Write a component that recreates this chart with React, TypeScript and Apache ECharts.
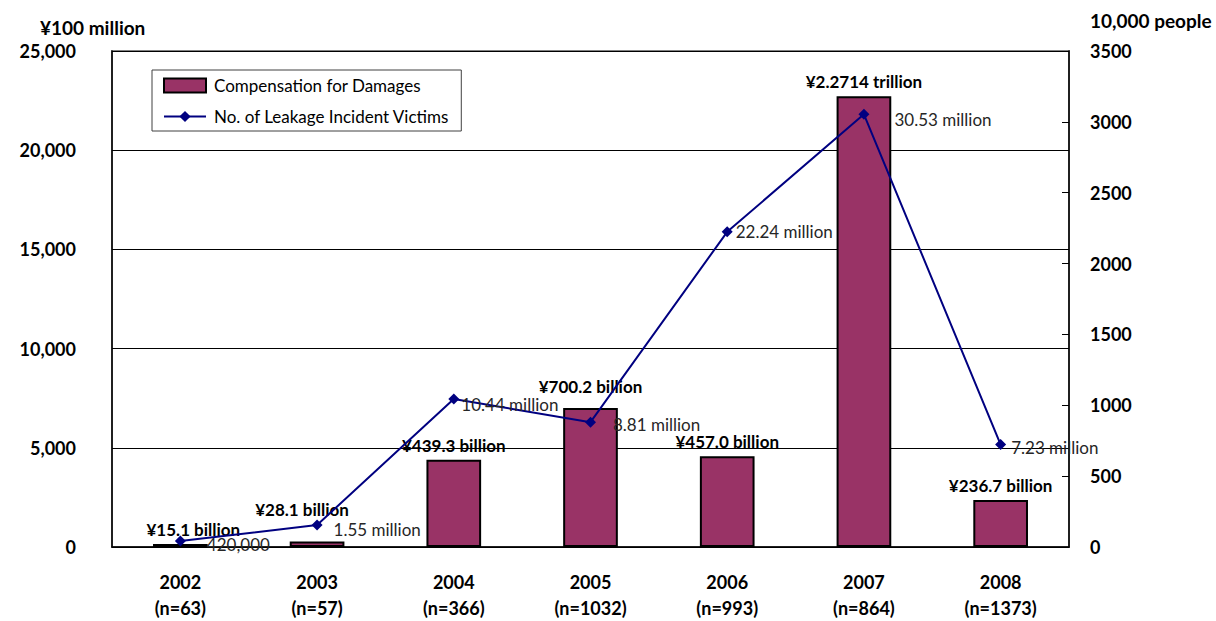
import React, { useEffect, useRef } from "react";
import * as echarts from "echarts";

const years = ["2002", "2003", "2004", "2005", "2006", "2007", "2008"];
const sampleSizes = ["n=63", "n=57", "n=366", "n=1032", "n=993", "n=864", "n=1373"];
const compensation = [151, 281, 4393, 7002, 4570, 22714, 2367];
const compensationLabels = ["¥15.1 billion", "¥28.1 billion", "¥439.3 billion", "¥700.2 billion", "¥457.0 billion", "¥2.2714 trillion", "¥236.7 billion"];
const victims = [42, 155, 1044, 881, 2224, 3053, 723];
const victimLabels = ["420,000", "1.55 million", "10.44 million", "8.81 million", "22.24 million", "30.53 million", "7.23 million"];

// label placement tweaks (style only)
const victimLabelOffsets = [[16, 3], [6, 4], [-3, 5], [12, 2], [-2, 0], [20, 5], [0, 3]];
const barLabelOffsets = [[13, 0], [-15, -17], [0, 0], [0, -7], [0, 0], [0, 0], [0, 0]];

const FONT = "Lato";

export default function App() {
  const ref = useRef<HTMLDivElement>(null);
  useEffect(() => {
    if (!ref.current) return;
    const chart = echarts.init(ref.current, null, { renderer: "svg" });
    chart.setOption({
      animation: false,
      backgroundColor: "#ffffff",
      textStyle: { fontFamily: FONT },
      grid: {
        left: 112,
        right: 147,
        top: 51,
        bottom: 70,
        show: true,
        borderColor: "#808080",
        borderWidth: 2,
        backgroundColor: "transparent",
      },
      legend: {
        orient: "vertical",
        left: 152,
        top: 70,
        padding: [7, 12, 6, 11],
        itemGap: 14,
        itemWidth: 42,
        itemHeight: 14,
        backgroundColor: "#ffffff",
        borderColor: "#404040",
        borderWidth: 1,
        textStyle: { fontFamily: FONT, fontSize: 17, color: "#000", padding: [0, 0, 0, 3] },
        data: [
          { name: "Compensation for Damages", icon: "rect" },
          { name: "No. of Leakage Incident Victims" },
        ],
      },
      graphic: [
        {
          type: "text",
          left: 40,
          top: 18,
          style: { text: "¥100 million", font: `bold 19px ${FONT}`, fill: "#000" },
        },
        {
          type: "text",
          left: 1090,
          top: 11,
          style: { text: "10,000 people", font: `bold 19px ${FONT}`, fill: "#000" },
        },
      ],
      xAxis: {
        type: "category",
        data: years,
        axisLine: { lineStyle: { color: "#000", width: 1.5 } },
        axisTick: { inside: true, length: 6, lineStyle: { color: "#000" } },
        axisLabel: {
          margin: 22,
          fontFamily: FONT,
          fontWeight: "bold",
          fontSize: 18,
          color: "#000",
          lineHeight: 26,
          formatter: (v: string, i: number) => `${v}\n(${sampleSizes[i]})`,
        },
      },
      yAxis: [
        {
          type: "value",
          min: 0,
          max: 25000,
          interval: 5000,
          axisLine: { show: true, lineStyle: { color: "#000", width: 1.5 } },
          axisTick: { show: false },
          splitLine: { lineStyle: { color: "#000", width: 1 } },
          axisLabel: {
            margin: 36,
            fontFamily: FONT,
            fontWeight: "bold",
            fontSize: 18,
            color: "#000",
            formatter: (v: number) => v.toLocaleString("en-US"),
          },
        },
        {
          type: "value",
          min: 0,
          max: 3500,
          interval: 500,
          axisLine: { show: true, lineStyle: { color: "#000", width: 1.5 } },
          axisTick: { show: true, inside: true, length: 7, lineStyle: { color: "#000" } },
          splitLine: { show: false },
          axisLabel: {
            margin: 21,
            fontFamily: FONT,
            fontWeight: "bold",
            fontSize: 18,
            color: "#000",
            formatter: (v: number) => String(v),
          },
        },
      ],
      series: [
        {
          name: "Compensation for Damages",
          type: "bar",
          yAxisIndex: 0,
          barWidth: "40%",
          data: compensation.map((v, i) => ({
            value: v,
            label: { offset: barLabelOffsets[i] },
          })),
          itemStyle: { color: "#993366", borderColor: "#000", borderWidth: 2 },
          label: {
            show: true,
            position: "top",
            distance: 6,
            fontFamily: FONT,
            fontWeight: "bold",
            fontSize: 17,
            color: "#000",
            formatter: (p: any) => compensationLabels[p.dataIndex],
          },
          z: 2,
        },
        {
          name: "No. of Leakage Incident Victims",
          type: "line",
          yAxisIndex: 1,
          data: victims.map((v, i) => ({
            value: v,
            label: { offset: victimLabelOffsets[i] },
          })),
          symbol: "diamond",
          symbolSize: 11,
          lineStyle: { color: "#000080", width: 2 },
          itemStyle: { color: "#000080" },
          label: {
            show: true,
            position: "right",
            distance: 5,
            fontFamily: FONT,
            fontSize: 17,
            color: "#262626",
            formatter: (p: any) => victimLabels[p.dataIndex],
          },
          z: 3,
        },
      ],
    });
    return () => chart.dispose();
  }, []);
  return (
    <div
      ref={ref}
      style={{ position: "fixed", left: 0, top: 0, width: 1216, height: 621 }}
    />
  );
}
